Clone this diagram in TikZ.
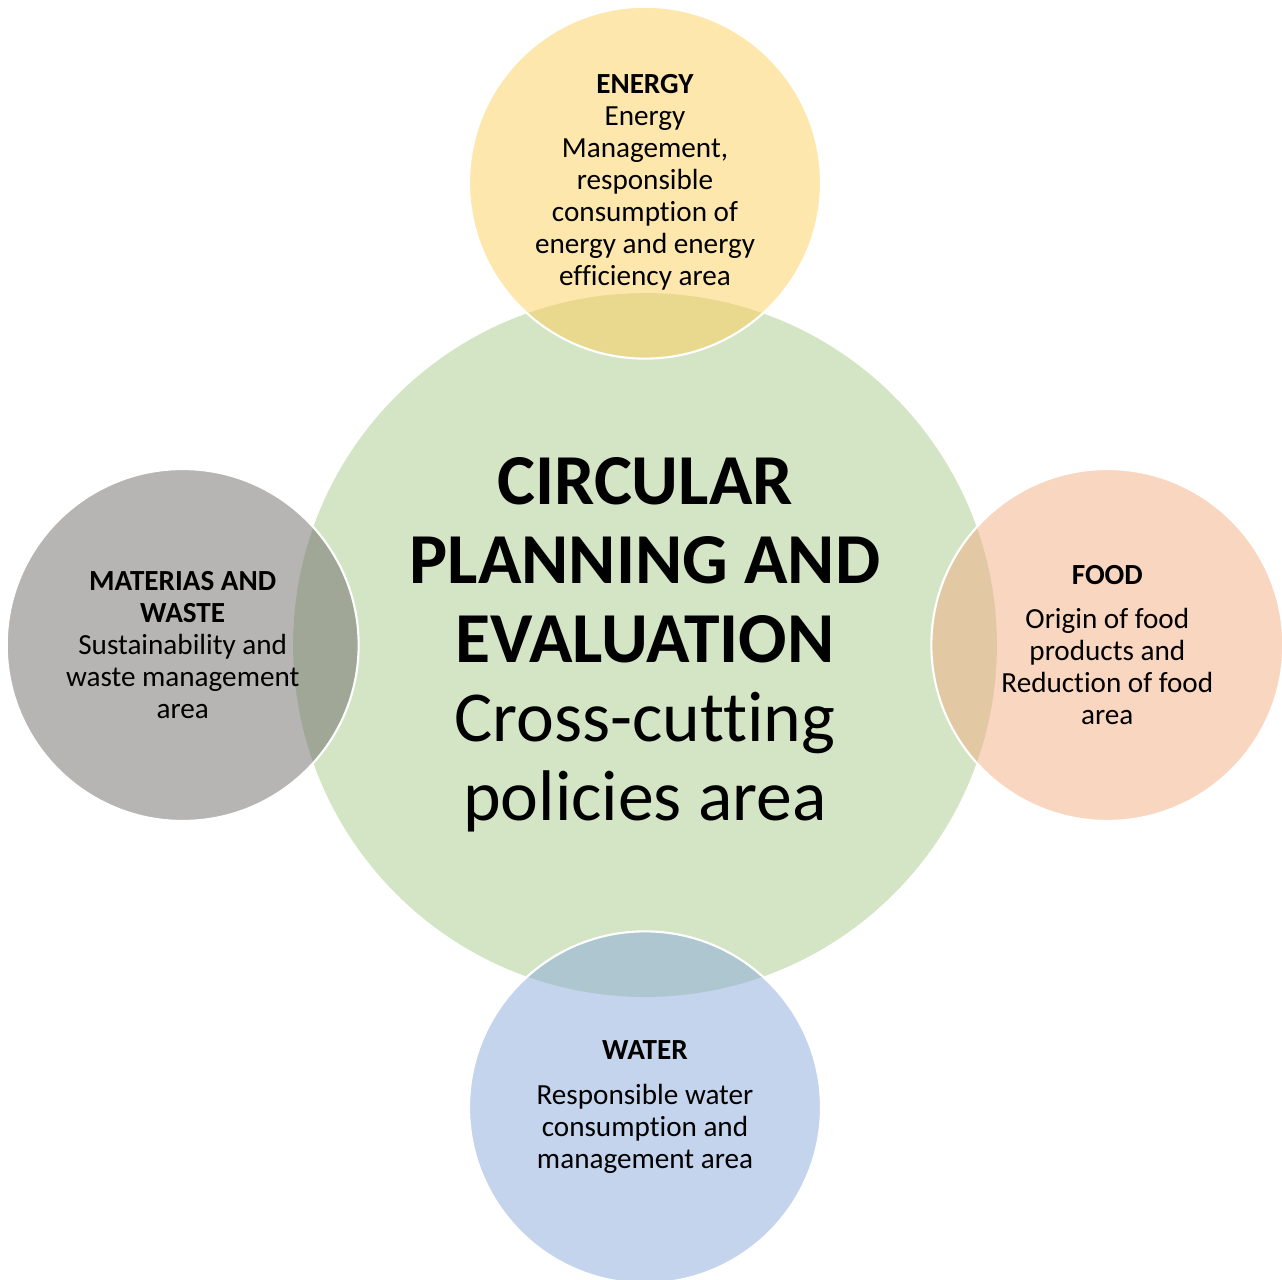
\documentclass[tikz,border=0pt]{standalone}
\usepackage{fontspec}
\setmainfont{Carlito}[Ligatures={NoCommon}]
\usepackage{tikz}
\usetikzlibrary{positioning}
\definecolor{hubgreen}{RGB}{212,229,198}
\definecolor{energyyellow}{RGB}{253,207,89}
\definecolor{foodpeach}{RGB}{241,173,129}
\definecolor{waterblue}{RGB}{137,169,217}
\definecolor{wastegray}{RGB}{109,107,105}
\tikzset{
    %Define style for the central circle
    hub/.style={
           circle,
           fill=hubgreen,
           minimum size=14.08cm,
           inner sep=0pt,
           font=\fontsize{40.8}{45}\selectfont,
           align=center},
    %Define style for the area circles
    area/.style={
           circle,
           draw=white, line width=1.2pt,
           fill opacity=0.5,
           text opacity=1,
           minimum size=7.04cm,
           inner sep=0pt,
           font=\fontsize{16.6}{18.2}\selectfont,
           align=center}
}
\begin{document}
\begin{tikzpicture}[x=0.02cm,y=-0.02cm,node distance=-1.34cm]
\useasboundingbox (0,0) rectangle (1282,1280);
 %nodes
\node[hub] (plan) at (645,645) {\textbf{CIRCULAR}\\\textbf{PLANNING AND}\\\textbf{EVALUATION}\\Cross-cutting\\policies area};
\node[area, fill=energyyellow, above=of plan] (energy) {\textbf{ENERGY}\\Energy\\Management,\\responsible\\consumption of\\energy and energy\\efficiency area};
\node[area, fill=foodpeach, right=of plan] (food) {\textbf{FOOD}\\[7.4pt]Origin of food\\products and\\Reduction of food\\area};
\node[area, fill=waterblue, below=of plan] (water) {\textbf{WATER}\\[7.4pt]Responsible water\\consumption and\\management area};
\node[area, fill=wastegray, left=of plan] (waste) {\textbf{MATERIAS AND}\\\textbf{WASTE}\\Sustainability and\\waste management\\area};
\end{tikzpicture}
\end{document}
